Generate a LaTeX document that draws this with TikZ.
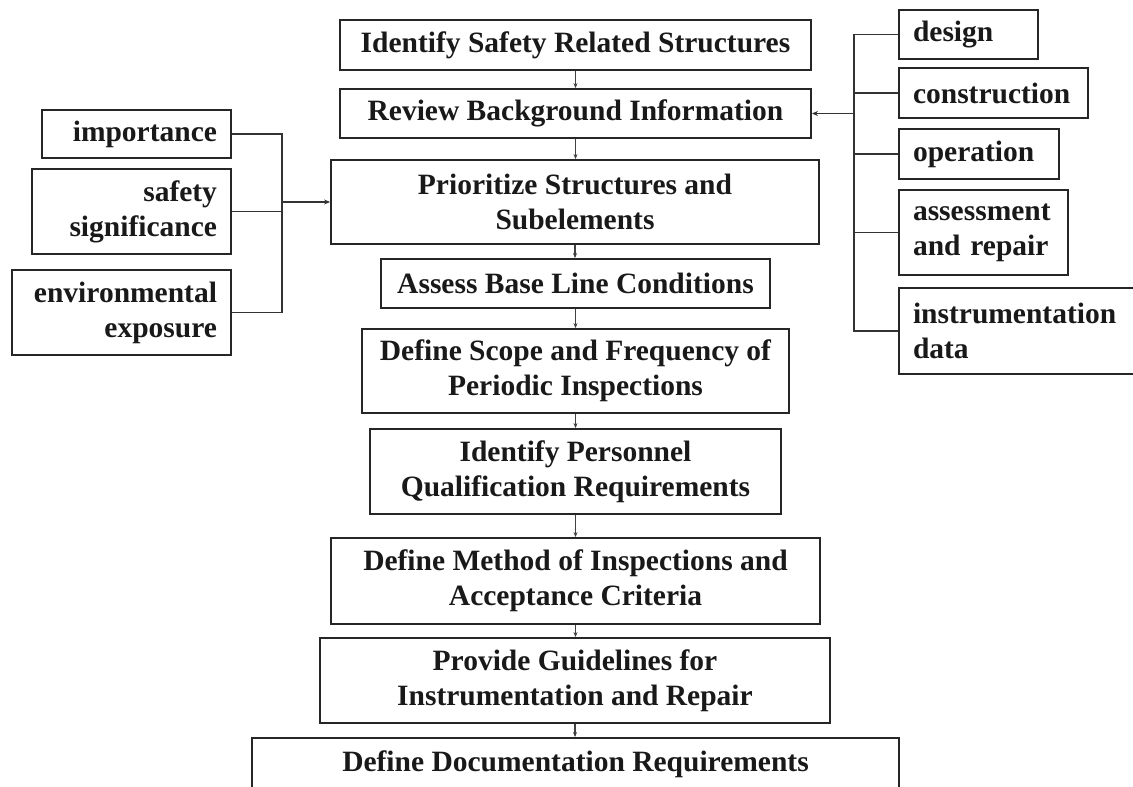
\documentclass[tikz,border=0pt]{standalone}
\usepackage{fontspec}
\setmainfont{Liberation Serif}
\usetikzlibrary{arrows.meta}

\tikzset{
  box/.style={draw=black!85, line width=1.8pt, inner sep=0pt, rectangle,
    font=\bfseries\fontsize{29.5}{35}\selectfont, text=black!90},
  mainbox/.style={box, align=center},
  leftbox/.style={box, inner xsep=14pt, align=right},
  rightbox/.style={box, inner xsep=14pt, align=left},
  link/.style={draw=black!80, line width=1.4pt},
  flow/.style={draw=black!75, line width=1.1pt, -{Stealth[length=5pt,width=4pt]}},
  feed/.style={link, -{Stealth[length=6pt,width=5pt]}},
}

\begin{document}
\begin{tikzpicture}[x=1pt, y=-1pt]
\useasboundingbox (0,0) rectangle (1133,787);
\clip (0,0) rectangle (1133,787);

% main sequence of steps
\node[mainbox, minimum width=471pt, minimum height=50pt] (ident)  at (575.5,45)   {Identify Safety Related Structures};
\node[mainbox, minimum width=471pt, minimum height=49pt] (review) at (575.5,113.5) {Review Background Information};
\node[mainbox, minimum width=488pt, minimum height=84pt] (prior)  at (575,202)    {Prioritize Structures and\\Subelements};
\node[mainbox, minimum width=389pt, minimum height=49pt] (assess) at (575.5,283.5) {Assess Base Line Conditions};
\node[mainbox, minimum width=427pt, minimum height=84pt] (scope)  at (575.5,371)  {Define Scope and Frequency of\\Periodic Inspections};
\node[mainbox, minimum width=411pt, minimum height=85pt] (person) at (575.5,471.5) {Identify Personnel\\Qualification Requirements};
\node[mainbox, minimum width=489pt, minimum height=86pt] (method) at (575.5,581)  {Define Method of Inspections and\\Acceptance Criteria};
\node[mainbox, minimum width=510pt, minimum height=85pt] (guide)  at (575,680.5)  {Provide Guidelines for\\Instrumentation and Repair};
\node[mainbox, minimum width=647pt, minimum height=52pt] (docu)   at (575.5,764)  {Define Documentation Requirements};

% prioritisation criteria (left)
\node[leftbox, text width=161pt, minimum height=48pt] (imp) at (136.5,134)   {importance};
\node[leftbox, text width=171pt, minimum height=85pt] (saf) at (131.5,211.5) {safety\\significance};
\node[leftbox, text width=191pt, minimum height=85pt] (env) at (121.5,312.5) {environmental\\exposure};

% background information sources (right)
\node[rightbox, text width=111pt, minimum height=49pt] (des)  at (968.5,34.5) {design};
\node[rightbox, text width=161pt, minimum height=50pt] (con)  at (993.5,93)   {construction};
\node[rightbox, text width=132pt, minimum height=50pt] (ope)  at (979,154)    {operation};
\node[rightbox, text width=141pt, minimum height=85pt] (asr)  at (983.5,232.5) {assessment\\and repair};
\node[rightbox, text width=223pt, minimum height=86pt] (ins)  at (1024.5,331) {instrumentation\\data};

% arrows between consecutive steps
\foreach \a/\b in {ident/review, review/prior, prior/assess, assess/scope,
                   scope/person, person/method, method/guide, guide/docu}
  \draw[flow] (\a.south) -- (\a.south |- \b.north);

% left collector bus
\coordinate (busL) at (282,202);
\draw[link] (imp.east) -| (busL);
\draw[link] (env.east) -| (busL);
\draw[link] (saf.east) -- (saf.east -| busL);
\draw[feed] (busL) -- (prior.west);

% right collector bus
\coordinate (busR) at (854,113.5);
\draw[link] (des.west) -| (busR);
\draw[link] (ins.west) -| (busR);
\draw[link] (con.west) -- (con.west -| busR);
\draw[link] (ope.west) -- (ope.west -| busR);
\draw[link] (asr.west) -- (asr.west -| busR);
\draw[feed] (busR) -- (review.east);
\end{tikzpicture}
\end{document}
